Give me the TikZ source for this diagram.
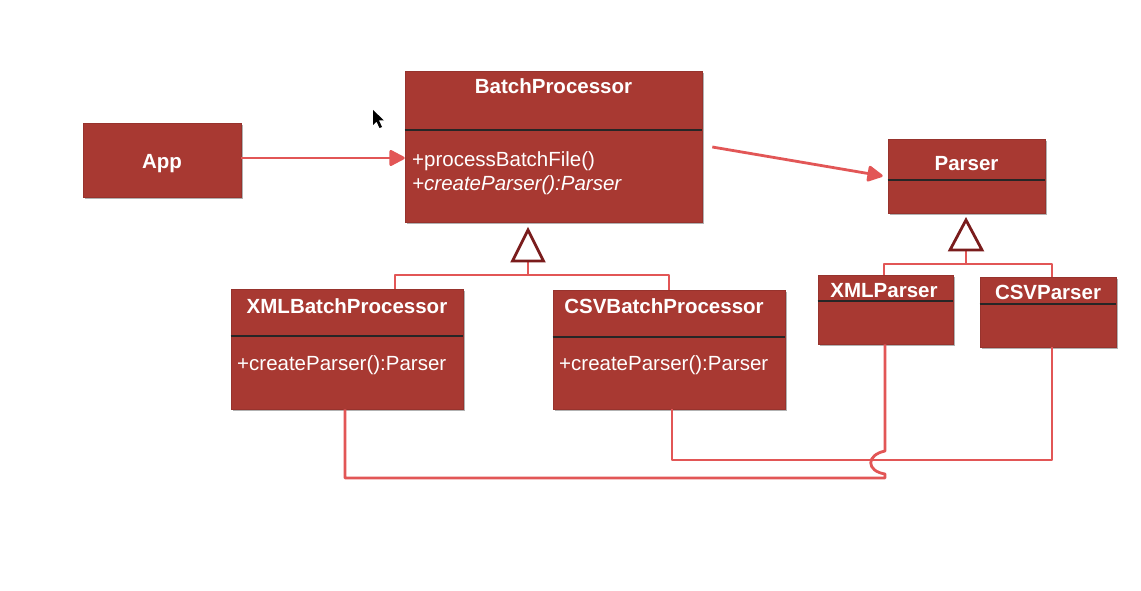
\documentclass[tikz,border=0pt]{standalone}
\usepackage{fontspec}
\setmainfont{Liberation Sans}
\usetikzlibrary{arrows.meta,shadows,calc}
\definecolor{boxred}{RGB}{168,57,50}
\definecolor{linered}{RGB}{226,86,86}
\definecolor{tridark}{RGB}{122,28,28}
\begin{document}
\begin{tikzpicture}[x=1pt,y=-1pt,
  umlbox/.style={draw=boxred!90!black,line width=0.6pt,fill=boxred,rectangle,inner sep=0pt,
     drop shadow={shadow xshift=1.5pt,shadow yshift=-2pt,opacity=0.3,fill=black}},
  ttl/.style={text=white,font=\fontsize{20.5}{24}\selectfont\bfseries,inner sep=0pt,anchor=base},
  bdy/.style={text=white,font=\fontsize{20.5}{24}\selectfont,inner sep=0pt,anchor=base west},
  sepline/.style={draw=black!85,line width=1.3pt},
  conn/.style={draw=linered,line width=2.8pt,line join=round},
  arr/.style={conn,-{Triangle[length=17pt,width=17pt,round]}},
  gen/.style={draw=tridark,line width=2.8pt,fill=white,line join=miter}]
\useasboundingbox[fill=white] (0,0) rectangle (1141,591);

% boxes
\node[umlbox,minimum width=158,minimum height=74] (app) at (162,160) {};
\node[umlbox,minimum width=297,minimum height=151] (bp) at (553.5,146.5) {};
\node[umlbox,minimum width=157,minimum height=74] (parser) at (966.5,176) {};
\node[umlbox,minimum width=232,minimum height=120] (xbp) at (347,349) {};
\node[umlbox,minimum width=232,minimum height=119] (cbp) at (669,349.5) {};
\node[umlbox,minimum width=135,minimum height=69] (xp) at (885.5,309.5) {};
\node[umlbox,minimum width=136,minimum height=70] (cp) at (1048,312) {};

% separators
\draw[sepline] (bp.west |- 0,130) -- (bp.east |- 0,130);
\draw[sepline] (parser.west |- 0,180) -- (parser.east |- 0,180);
\draw[sepline] (xbp.west |- 0,336) -- (xbp.east |- 0,336);
\draw[sepline] (cbp.west |- 0,337) -- (cbp.east |- 0,337);
\draw[sepline] (xp.west |- 0,301) -- (xp.east |- 0,301);
\draw[sepline] (cp.west |- 0,304) -- (cp.east |- 0,304);

% texts
\node[ttl] (tapp) at (162,168) {App};
\node[ttl] (tbp) at (553.5,94) {BatchProcessor};
\node[bdy] (bp1) at (412,167) {+processBatchFile()};
\node[bdy] (bp2) at (412,190) {\itshape +createParser():Parser};
\node[ttl] (tparser) at (966.5,171) {Parser};
\node[ttl] (txbp) at (347,313) {XMLBatchProcessor};
\node[bdy] (xbp1) at (237,370) {+createParser():Parser};
\node[ttl] (tcbp) at (664,313) {CSVBatchProcessor};
\node[bdy] (cbp1) at (559,370) {+createParser():Parser};
\node[ttl] (txp) at (884,297) {XMLParser};
\node[ttl] (tcp) at (1048,299) {CSVParser};

% associations
\draw[arr] (app.east |- 0,158) -- (bp.west |- 0,158);
\draw[arr] ($(bp.east)+(10,0.5)$) -- ($(parser.west)+(-5,0)$);

% generalization to BatchProcessor
\coordinate (t1apex) at (528,230);
\coordinate (t1base) at (528,261);
\coordinate (t1bar) at (528,275);
\draw[conn] (t1base) -- (t1bar);
\draw[conn] (xbp.north -| 395,0) |- (t1bar) -| (cbp.north -| 669,0);
\draw[gen] (t1apex) -- (512.5,261) -- (543.5,261) -- cycle;

% generalization to Parser
\coordinate (t2apex) at (966,220);
\coordinate (t2base) at (966,250);
\coordinate (t2bar) at (966,264);
\draw[conn] (t2base) -- (t2bar);
\draw[conn] (xp.north -| 884,0) |- (t2bar) -| (cp.north -| 1052,0);
\draw[gen] (t2apex) -- (950,250) -- (982,250) -- cycle;

% bottom links
\draw[conn] (cbp.south -| 672,0) |- (1052,460) -- (cp.south -| 1052,0);
\draw[conn] (xbp.south -| 345,0) |- (885,478) -- (885,474)
   .. controls (866,471) and (866,455) .. (885,451) -- (xp.south -| 885,0);

% mouse pointer
\fill[black] (373,110) -- (373,125) -- (376.5,121.5) -- (379.5,128) -- (382,127) -- (379,120.5) -- (384,120.5) -- cycle;
\end{tikzpicture}
\end{document}
